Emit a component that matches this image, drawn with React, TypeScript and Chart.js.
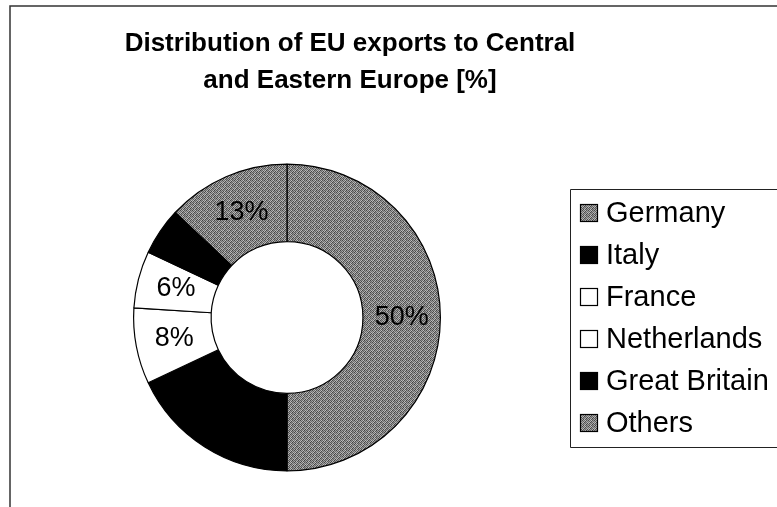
import React, { useEffect, useRef } from "react";
import { Chart, registerables } from "chart.js";

Chart.register(...registerables);

const TITLE_LINES = ["Distribution of EU exports to Central", "and Eastern Europe [%]"];
const CATEGORIES = ["Germany", "Italy", "France", "Netherlands", "Great Britain", "Others"];
const VALUES = [50, 18, 8, 6, 5, 13];
const FILL_KIND = ["gray", "black", "white", "white", "black", "gray"];

const FONT = '"Liberation Sans", Arial, Helvetica, sans-serif';

function makeGrayPattern(): CanvasPattern | string {
  const n = 6;
  const c = document.createElement("canvas");
  c.width = n;
  c.height = n;
  const ctx = c.getContext("2d");
  if (!ctx) return "#7a7a7a";
  const shades = [
    [70, 170, 105, 190, 85, 150],
    [160, 95, 180, 75, 165, 110],
    [115, 190, 70, 140, 100, 185],
    [185, 80, 155, 100, 175, 70],
    [90, 145, 110, 180, 65, 160],
    [170, 70, 190, 85, 140, 100],
  ];
  for (let y = 0; y < n; y++) {
    for (let x = 0; x < n; x++) {
      const v = shades[y][x];
      ctx.fillStyle = `rgb(${v},${v},${v})`;
      ctx.fillRect(x, y, 1, 1);
    }
  }
  const p = ctx.createPattern(c, "repeat");
  return p || "#7a7a7a";
}

export default function App() {
  const ref = useRef<HTMLCanvasElement | null>(null);

  useEffect(() => {
    const canvas = ref.current;
    if (!canvas) return;
    const gray = makeGrayPattern();
    const fills = FILL_KIND.map((k) => (k === "gray" ? gray : k === "black" ? "#000000" : "#ffffff"));

    const decor = {
      id: "decor",
      afterDatasetsDraw(chart: any) {
        const ctx = chart.ctx as CanvasRenderingContext2D;
        const meta = chart.getDatasetMeta(0);
        ctx.save();
        ctx.fillStyle = "#000";
        ctx.font = `27px ${FONT}`;
        ctx.textAlign = "center";
        ctx.textBaseline = "middle";
        meta.data.forEach((arc: any, i: number) => {
          const p = arc.getProps(["x", "y", "startAngle", "endAngle", "innerRadius", "outerRadius"], true);
          const a = (p.startAngle + p.endAngle) / 2;
          const r = (p.innerRadius + p.outerRadius) / 2;
          ctx.fillText(VALUES[i] + "%", p.x + Math.cos(a) * r, p.y + Math.sin(a) * r);
        });
        ctx.restore();
      },
      afterDraw(chart: any) {
        const ctx = chart.ctx as CanvasRenderingContext2D;
        const W = chart.width;
        const H = chart.height;
        ctx.save();
        // outer frame
        ctx.strokeStyle = "#333";
        ctx.lineWidth = 1.5;
        ctx.beginPath();
        ctx.moveTo(W + 2, 6);
        ctx.lineTo(10, 6);
        ctx.lineTo(10, H + 2);
        ctx.stroke();

        // title
        ctx.fillStyle = "#000";
        ctx.font = `bold 26px ${FONT}`;
        ctx.textAlign = "center";
        ctx.textBaseline = "middle";
        TITLE_LINES.forEach((t, i) => ctx.fillText(t, 350, 44 + i * 37));

        // legend
        const boxX = 570;
        const boxTop = 189;
        const rowH = 42;
        const boxBottom = boxTop + rowH * CATEGORIES.length + 6;
        ctx.strokeStyle = "#222";
        ctx.lineWidth = 1;
        ctx.beginPath();
        ctx.moveTo(W + 2, boxTop + 0.5);
        ctx.lineTo(boxX + 0.5, boxTop + 0.5);
        ctx.lineTo(boxX + 0.5, boxBottom + 0.5);
        ctx.lineTo(W + 2, boxBottom + 0.5);
        ctx.stroke();

        ctx.font = `29px ${FONT}`;
        ctx.textAlign = "left";
        ctx.textBaseline = "middle";
        CATEGORIES.forEach((name, i) => {
          const cy = boxTop + 24 + i * rowH;
          const sx = 580;
          const sz = 18;
          ctx.fillStyle = fills[i] as any;
          ctx.fillRect(sx, cy - sz / 2, sz, sz);
          ctx.strokeStyle = "#000";
          ctx.lineWidth = 1.2;
          ctx.strokeRect(sx + 0.5, cy - sz / 2 + 0.5, sz - 1, sz - 1);
          ctx.fillStyle = "#000";
          ctx.fillText(name, 606, cy + 1);
        });
        ctx.restore();
      },
    };

    const chart = new Chart(canvas, {
      type: "doughnut",
      data: {
        labels: CATEGORIES,
        datasets: [
          {
            data: VALUES,
            backgroundColor: fills as any,
            borderColor: "#000",
            borderWidth: 1.2,
          },
        ],
      },
      options: {
        responsive: false,
        animation: false,
        cutout: "49.5%",
        layout: { padding: { left: 133, right: 336, top: 163, bottom: 35 } },
        plugins: {
          legend: { display: false },
          title: { display: false },
          tooltip: { enabled: false },
        },
      },
      plugins: [decor],
    });
    return () => chart.destroy();
  }, []);

  return (
    <div style={{ position: "absolute", left: 0, top: 0, width: 777, height: 507, background: "#fff" }}>
      <canvas ref={ref} width={777} height={507} style={{ display: "block" }} />
    </div>
  );
}
